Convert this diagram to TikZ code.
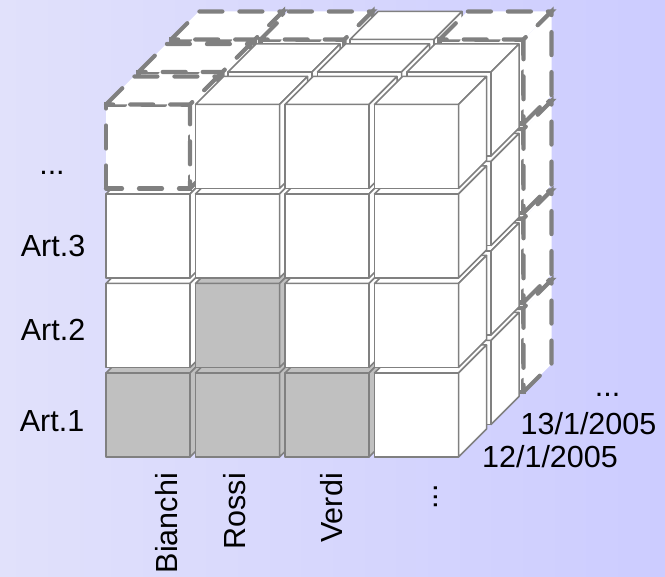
\documentclass[tikz,border=0pt]{standalone}
\usepackage{fontspec}
\setmainfont{Liberation Sans}
\definecolor{edge}{HTML}{808080}
\definecolor{cellgray}{HTML}{C0C0C0}
\definecolor{bgleft}{HTML}{E1E1FB}
\definecolor{bgright}{HTML}{CCCCFF}

\begin{document}
\begin{tikzpicture}[
  x=1pt, y=1pt,
  cube/.style={draw=edge, line width=1.5pt, line join=round, fill=white},
  fullcube/.style={draw=edge, line width=1.5pt, line join=round, fill=cellgray},
  ghost/.style={draw=edge, line width=4.2pt, line cap=round, dash pattern=on 23pt off 17pt, fill=white},
  lbl/.style={font=\fontsize{30.5}{36}\selectfont, inner sep=0pt, anchor=base},
  vlbl/.style={lbl, rotate=90, anchor=base east},
]

% ---------- background ----------
\useasboundingbox (0,0) rectangle (665,-577);
\shade[left color=bgleft, right color=bgright] (0,0) rectangle (665,-577);

% ---------- cubes: layer k (back to front), column i, row j ----------
% front face 84 wide, depth 28, pitch 89.5 across and 32.5 in depth
\foreach \k in {2,1,0} {
  \foreach \i in {0,...,3} {
    \foreach \j in {0,...,3} {
      \pgfmathsetmacro{\X}{106+89.5*\i+32.5*\k}
      \pgfmathsetmacro{\Y}{-457+89.5*\j+32.5*\k}
      \pgfmathtruncatemacro{\isghost}{(\k==2 && (\i==3 || (\j==3 && \i!=2))) || (\k<2 && \i==0 && \j==3)}
      \pgfmathtruncatemacro{\isfull}{\k==0 && ((\j==0 && \i<3) || (\j==1 && \i==1))}
      \def\st{cube}
      \ifnum\isghost=1 \def\st{ghost}\fi
      \ifnum\isfull=1 \def\st{fullcube}\fi
      \draw[\st] (\X,\Y) rectangle ++(84,84);
      \draw[\st] (\X,\Y+84) -- ++(28,28) -- ++(84,0) -- ++(-28,-28) -- cycle;
      \draw[\st] (\X+84,\Y) -- ++(28,28) -- ++(0,84) -- ++(-28,-28) -- cycle;
    }
  }
}

% ---------- articles (left) ----------
\node[lbl] (artdots) at (52,-175) {...};
\node[lbl] (art3) at (53,-257) {Art.3};
\node[lbl] (art2) at (53,-341) {Art.2};
\node[lbl] (art1) at (52,-432) {Art.1};

% ---------- customers (bottom) ----------
\node[vlbl] (bianchi) at (177,-473) {Bianchi};
\node[vlbl] (rossi) at (245,-473) {Rossi};
\node[vlbl] (verdi) at (342,-473) {Verdi};
\node[lbl, rotate=90] (custdots) at (437,-497) {...};

% ---------- dates (right) ----------
\node[lbl] (day12) at (550,-468) {12/1/2005};
\node[lbl] (day13) at (588.5,-435) {13/1/2005};
\node[lbl] (daydots) at (607.5,-397) {...};

\end{tikzpicture}
\end{document}
